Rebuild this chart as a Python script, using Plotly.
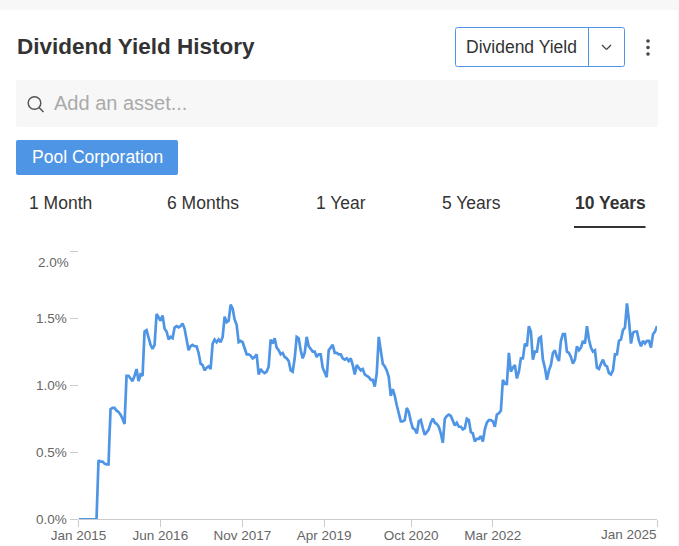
#!/usr/bin/env python3
# -*- coding: utf-8 -*-

import pandas as pd
import plotly.graph_objects as go

# %% Data (dividend yield in %, roughly every two weeks)
yield_pct = [
    0, 0, 0, 0, 0, 0, 0, 0, 0, 0.0, 0.44, 0.43, 0.43, 0.415, 0.41, 0.41, 0.82, 0.83, 0.83, 0.81,
    0.80, 0.78, 0.75, 0.71, 1.07, 1.07, 1.05, 1.03, 1.07, 1.12, 1.03, 1.08, 1.07, 1.40, 1.41, 1.35,
    1.30, 1.27, 1.30, 1.53, 1.50, 1.48, 1.52, 1.42, 1.40, 1.34, 1.36, 1.35, 1.43, 1.44, 1.43, 1.44,
    1.46, 1.42, 1.34, 1.26, 1.29, 1.30, 1.29, 1.29, 1.24, 1.16, 1.15, 1.11, 1.13, 1.14, 1.12, 1.31,
    1.34, 1.32, 1.34, 1.32, 1.36, 1.51, 1.47, 1.48, 1.60, 1.57, 1.49, 1.45, 1.32, 1.33, 1.32, 1.28,
    1.23, 1.23, 1.22, 1.20, 1.21, 1.23, 1.08, 1.12, 1.10, 1.09, 1.10, 1.14, 1.34, 1.31, 1.35, 1.28,
    1.26, 1.23, 1.24, 1.21, 1.20, 1.18, 1.11, 1.10, 1.20, 1.36, 1.35, 1.26, 1.20, 1.24, 1.36, 1.29,
    1.27, 1.25, 1.25, 1.21, 1.23, 1.23, 1.13, 1.09, 1.06, 1.26, 1.28, 1.30, 1.24, 1.24, 1.23, 1.23,
    1.20, 1.19, 1.20, 1.18, 1.20, 1.15, 1.08, 1.15, 1.13, 1.11, 1.12, 1.08, 1.07, 1.06, 1.04, 1.04,
    0.99, 1.09, 1.36, 1.26, 1.16, 1.14, 1.11, 1.06, 0.92, 0.97, 0.92, 0.85, 0.78, 0.73, 0.73, 0.74,
    0.83, 0.80, 0.73, 0.68, 0.67, 0.64, 0.73, 0.74, 0.68, 0.63, 0.65, 0.67, 0.72, 0.75, 0.72, 0.71,
    0.69, 0.64, 0.57, 0.75, 0.77, 0.78, 0.77, 0.73, 0.70, 0.72, 0.69, 0.69, 0.67, 0.68, 0.75, 0.74,
    0.65, 0.64, 0.58, 0.60, 0.60, 0.62, 0.58, 0.67, 0.72, 0.74, 0.74, 0.73, 0.69, 0.78, 0.79, 0.81,
    1.04, 1.01, 1.01, 1.24, 1.10, 1.13, 1.15, 1.05, 1.10, 1.20, 1.20, 1.31, 1.29, 1.44, 1.40, 1.19,
    1.25, 1.25, 1.35, 1.36, 1.19, 1.13, 1.04, 1.11, 1.15, 1.24, 1.26, 1.21, 1.18, 1.33, 1.38, 1.38,
    1.25, 1.24, 1.21, 1.16, 1.19, 1.29, 1.26, 1.28, 1.33, 1.31, 1.44, 1.34, 1.28, 1.25, 1.26, 1.13,
    1.12, 1.16, 1.19, 1.15, 1.14, 1.09, 1.08, 1.11, 1.23, 1.23, 1.33, 1.34, 1.41, 1.43, 1.61, 1.48,
    1.31, 1.39, 1.40, 1.40, 1.33, 1.29, 1.33, 1.31, 1.33, 1.33, 1.28, 1.38, 1.40, 1.44,
]
dates = pd.date_range('2015-01-01', '2025-01-01', periods=len(yield_pct))

x_ticks = ['2015-01-01', '2016-06-01', '2017-11-01', '2019-04-01', '2020-10-01', '2022-03-01', '2025-01-01']
x_labels = ['Jan 2015', 'Jun 2016', 'Nov 2017', 'Apr 2019', 'Oct 2020', 'Mar 2022', '']
y_ticks = [0, 0.5, 1.0, 1.5, 2.0]
y_labels = ['0.0%', '0.5%', '1.0%', '1.5%', '']
periods = ['1 Month', '6 Months', '1 Year', '5 Years', '10 Years']
period_x = [60.5, 202.5, 340.5, 471, 610]

W, H = 679, 546
FONT = 'Liberation Sans'
BLUE = '#4f95e5'


# everything around the chart is placed in pixels from the top left corner
def px(x):
    return x / W


def py(y):
    return 1 - y / H


def text(x, y, s, size, color, bold=False, anchor='left'):
    fig.add_annotation(xref='paper', yref='paper', x=px(x), y=py(y), text='<b>%s</b>' % s if bold else s,
                       showarrow=False, xanchor=anchor, yanchor='middle',
                       font=dict(family=FONT, size=size, color=color), borderpad=0, borderwidth=0)


def rounded(x0, y0, x1, y1, r, fill, line=None):
    x0, x1, y0, y1 = px(x0), px(x1), py(y0), py(y1)
    rx, ry = r / W, r / H
    path = (f'M{x0 + rx},{y0} L{x1 - rx},{y0} Q{x1},{y0} {x1},{y0 - ry} L{x1},{y1 + ry} Q{x1},{y1} {x1 - rx},{y1} '
            f'L{x0 + rx},{y1} Q{x0},{y1} {x0},{y1 + ry} L{x0},{y0 - ry} Q{x0},{y0} {x0 + rx},{y0} Z')
    fig.add_shape(type='path', path=path, xref='paper', yref='paper', fillcolor=fill,
                  line=dict(color=line or fill, width=1 if line else 0), layer='below')


def seg(x0, y0, x1, y1, color, width):
    fig.add_shape(type='line', xref='paper', yref='paper', x0=px(x0), y0=py(y0), x1=px(x1), y1=py(y1),
                  line=dict(color=color, width=width))


def circle(cx, cy, r, fill, line=None, width=0):
    fig.add_shape(type='circle', xref='paper', yref='paper', x0=px(cx - r), x1=px(cx + r),
                  y0=py(cy + r), y1=py(cy - r), fillcolor=fill, line=dict(color=line or fill, width=width))


# %% Chart
fig = go.Figure(go.Scatter(x=dates, y=yield_pct, mode='lines', line=dict(color=BLUE, width=2.7),
                           hoverinfo='x+y'))

fig.update_layout(
    width=W, height=H, autosize=False, showlegend=False,
    margin=dict(l=0, r=0, t=0, b=0, pad=0), paper_bgcolor='white', plot_bgcolor='white',
    font=dict(family=FONT, size=13.5, color='#666666'),
)
fig.update_xaxes(domain=[px(78.5), px(657)], range=['2015-01-01', '2025-01-01'], tickmode='array',
                 tickvals=x_ticks, ticktext=x_labels, ticks='outside', ticklen=7, tickcolor='#cccccc', tickwidth=1,
                 showgrid=False, showline=True, linecolor='#cccccc', linewidth=1, zeroline=False, tickangle=0,
                 automargin=False, ticklabelstandoff=-4, tickfont=dict(family=FONT, size=13.5, color='#666666'))
fig.update_yaxes(domain=[py(519.3), py(251)], range=[0, 2], tickmode='array', tickvals=y_ticks, ticktext=y_labels,
                 ticks='outside', ticklen=8, tickcolor='#cccccc', tickwidth=1, showgrid=False, showline=False,
                 zeroline=False, automargin=False, tickfont=dict(family=FONT, size=13.5, color='#666666'))

# %% Page furniture around the chart
fig.add_shape(type='rect', xref='paper', yref='paper', x0=0, x1=1, y0=py(10), y1=1,
              fillcolor='#f7f7f7', line_width=0, layer='below')
fig.add_shape(type='rect', xref='paper', yref='paper', x0=px(678), x1=1, y0=0, y1=1,
              fillcolor='#f7f7f7', line_width=0, layer='below')

text(17, 46, 'Dividend Yield History', 22.5, '#333333', bold=True)

rounded(455.5, 27.5, 624.5, 66.5, 2, 'white', BLUE)
seg(588.5, 28, 588.5, 66, BLUE, 1)
text(466, 47, 'Dividend Yield', 17.5, '#333333')
seg(602, 45, 606.5, 49.5, '#444444', 1.3)
seg(606.5, 49.5, 611, 45, '#444444', 1.3)
for dot_y in (41, 47.5, 54):
    circle(648, dot_y, 1.8, '#444444')

rounded(16, 80, 658, 127, 2, '#f7f7f7')
circle(34.5, 103, 6.3, 'rgba(0,0,0,0)', '#555555', 1.5)
seg(39, 107.5, 43.5, 112, '#555555', 1.5)
text(54, 103, 'Add an asset...', 20, '#aaaaaa')

rounded(16, 140, 178, 175, 2, '#4f95e5')
text(97, 157, 'Pool Corporation', 17.5, 'white', anchor='center')

for label, label_x in zip(periods, period_x):
    text(label_x, 203, label, 17.5, '#333333', bold=label == '10 Years', anchor='center')
seg(574, 227, 645.5, 227, '#333333', 2)

# the end labels sit off their ticks in the reference
text(53, 262, '2.0%', 13.5, '#666666', anchor='center')
text(657, 534.5, 'Jan 2025', 13.5, '#666666', anchor='right')

# page margin would push the figure 8px in from the window edge
fig.write_html('out.html', config=dict(displayModeBar=False),
               post_script="document.body.style.margin='0';document.body.style.overflow='hidden';")
